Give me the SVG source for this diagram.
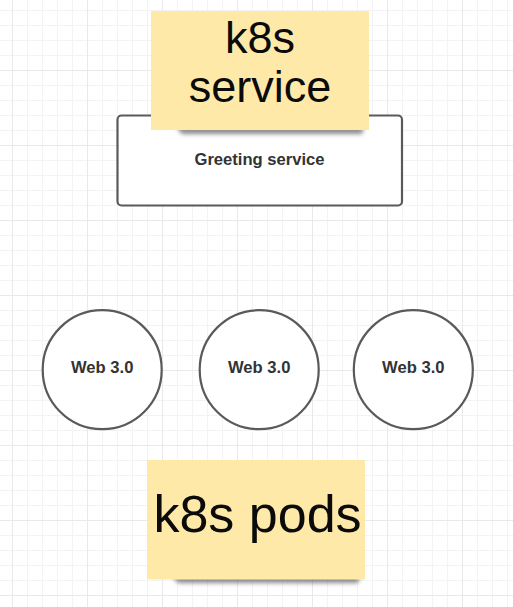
<svg xmlns="http://www.w3.org/2000/svg" width="513" height="607" viewBox="0 0 513 607">
  <defs>
    <pattern id="minorGrid" x="12" y="10" width="15" height="15" patternUnits="userSpaceOnUse">
      <path d="M0.5 0 V15 M0 0.5 H15" fill="none" stroke="#f3f3f3" stroke-width="1"/>
    </pattern>
    <pattern id="majorGrid" x="12" y="-5" width="75" height="75" patternUnits="userSpaceOnUse">
      <path d="M0.5 0 V75 M0 0.5 H75" fill="none" stroke="#e9e9e9" stroke-width="1"/>
    </pattern>
    <filter id="noteShadow" x="-20%" y="-200%" width="140%" height="500%">
      <feGaussianBlur stdDeviation="2.2"/>
    </filter>
    <style>
      .note { fill: #ffe9a8; }
      .noteText { font-family: "Liberation Sans", Arial, sans-serif; fill: #0b0b0b; text-anchor: middle; }
      .shape { fill: #ffffff; stroke: #5a5a5a; stroke-width: 2.2; }
      .label { font-family: "Liberation Sans", Arial, sans-serif; font-weight: bold; font-size: 16.6px; fill: #333333; text-anchor: middle; }
      .shadow { fill: #5a5a5a; opacity: 0.7; filter: url(#noteShadow); }
    </style>
  </defs>

  <!-- canvas grid -->
  <rect width="513" height="607" fill="#ffffff"/>
  <rect width="513" height="607" fill="url(#minorGrid)"/>
  <rect width="513" height="607" fill="url(#majorGrid)"/>

  <g id="connectors"/>

  <!-- service box -->
  <g id="greeting-service">
    <rect class="shape" x="117.5" y="115.5" width="284.5" height="90" rx="4"/>
    <text class="label" x="259.5" y="165">Greeting service</text>
  </g>

  <!-- pods -->
  <g id="pod-1">
    <circle class="shape" cx="102.2" cy="369.7" r="59.5"/>
    <text class="label" x="102.2" y="372.7">Web 3.0</text>
  </g>
  <g id="pod-2">
    <circle class="shape" cx="259.2" cy="369.7" r="59.5"/>
    <text class="label" x="259.2" y="372.7">Web 3.0</text>
  </g>
  <g id="pod-3">
    <circle class="shape" cx="413.3" cy="369.7" r="59.5"/>
    <text class="label" x="413.3" y="372.7">Web 3.0</text>
  </g>

  <!-- sticky notes -->
  <g id="note-service">
    <path class="shadow" d="M176 127 L364 127 L362 134 L182 134 Z"/>
    <rect class="note" x="151" y="11" width="218" height="119"/>
    <text class="noteText" font-size="45" x="260" y="53">k8s</text>
    <text class="noteText" font-size="45" x="260" y="102.3">service</text>
  </g>
  <g id="note-pods">
    <path class="shadow" d="M172 576 L360 576 L358 583 L178 583 Z"/>
    <rect class="note" x="147" y="460" width="218" height="119.5"/>
    <text class="noteText" font-size="52" x="257.5" y="531.7">k8s pods</text>
  </g>
</svg>
